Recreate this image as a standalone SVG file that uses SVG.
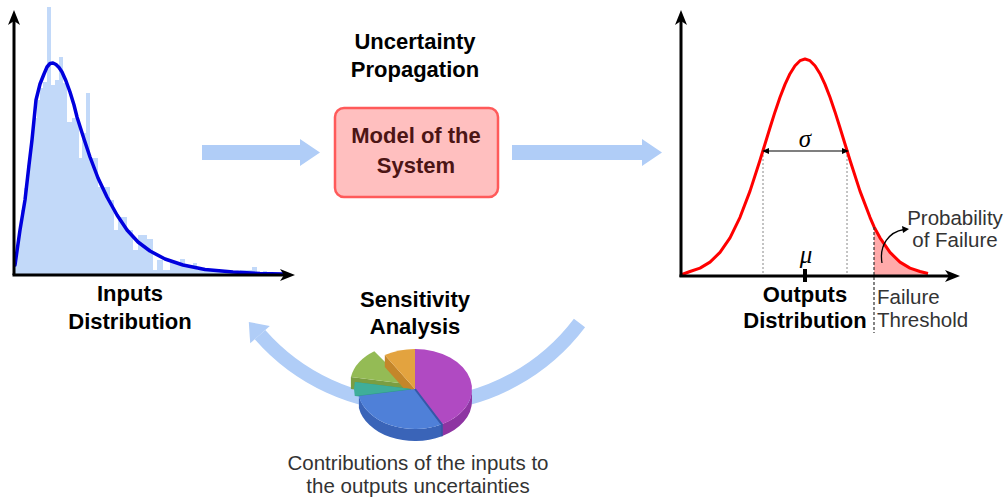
<svg xmlns="http://www.w3.org/2000/svg" width="1007" height="499" viewBox="0 0 1007 499">
<style>
text{font-family:"Liberation Sans",Arial,sans-serif}
.b{font-weight:bold;font-size:22px;fill:#000;text-anchor:middle}
.g{font-size:20.5px;fill:#333;}
.ax{stroke:#000;stroke-width:3;fill:none}
.ah{fill:#000}
.conn{fill:#b0cdf7}
.arc{fill:none;stroke:#b0cdf7;stroke-width:14}
.dot{stroke:#888;stroke-width:1;stroke-dasharray:2,2;fill:none}
.sym{font-family:"Liberation Serif","Times New Roman",serif;font-style:italic;font-size:25px;text-anchor:middle}
</style>
<rect width="1007" height="499" fill="#fff"/>

<g id="connectors">
  <polygon class="conn" points="202,145 300,145 300,139 320,152.5 300,166 300,160 202,160"/>
  <polygon class="conn" points="512,145 642,145 642,139 662,152.5 642,166 642,160 512,160"/>
  <path class="arc" d="M579.5,323 A206,206 0 0 1 260,334.7"/>
  <polygon class="conn" points="248.8,321.9 269.8,326.1 250.2,343.3"/>
</g>

<g id="inputs-distribution">
  <path fill="#c2d9f9" d="M15,274 V255 H18 V232 H21 V210 H24 V188 H27 V165 H30 V140 H33 V118 H37 V100 H40 V88 H43 V82 H47 V7 H51 V85 H55 V80 H59 V57 H63 V83 H67 V122 H72 V118 H79 V158 H82 V133 H86 V93 H90 V158 H98 V187 H110 V200 H114 V230 H118 V217 H127 V230 H133 V250 H138 V235 H147 V239 H153 V270 H157 V260 H163 V270 H170 V262 H180 V259 H185 V267 H193 V263 H197 V270 H210 V271 H225 V272 H240 V270 H252 V267 H257 V272 H263 V271 H267 V274 Z"/>
  <polyline fill="none" stroke="#0000dd" stroke-width="3.5" stroke-linejoin="round" stroke-linecap="round" points="15,265 20,230 25,200 29,165 32,140 36,100 40,84 44,74 47,67 50,63.5 53,63 56,64.5 59,67.5 62,72 66,81 70,92 74,105 77,117 84,139 90,157 98,178 107,197 117,215 127,230 138,242 150,251 165,259 183,265 205,269.5 233,272 260,273.5 283,274"/>
  <line class="ax" x1="14" y1="275" x2="14" y2="20"/>
  <line class="ax" x1="12.5" y1="275" x2="285" y2="275"/>
  <path class="ah" d="M14,10 L20,25 L14,21 L8,25 Z"/>
  <path class="ah" d="M295,275 L280,269 L284,275 L280,281 Z"/>
  <text class="b" x="130" y="301">Inputs</text>
  <text class="b" x="130" y="329">Distribution</text>
</g>

<g id="uncertainty-propagation">
  <text class="b" x="415" y="49">Uncertainty</text>
  <text class="b" x="415" y="77">Propagation</text>
</g>

<g id="model">
  <rect x="335" y="108" width="163" height="89" rx="9" fill="#ffbfbf" stroke="#ff5a5a" stroke-width="2.5"/>
  <text class="b" x="416" y="143" style="fill:#4c1515">Model of the</text>
  <text class="b" x="416" y="173" style="fill:#4c1515">System</text>
</g>

<g id="outputs-distribution">
  <polygon fill="#ffaaaa" points="874,276 874,226.7 880,237.8 890,252.4 900,262.1 910,268.1 920,271.5 928,273.1 928,276"/>
  <line class="dot" x1="763" y1="151" x2="763" y2="275"/>
  <line class="dot" x1="847" y1="151" x2="847" y2="275"/>
  <polyline fill="none" stroke="#ff0000" stroke-width="3" stroke-linejoin="round" points="682,274.5 690,271.5 700,268.1 710,262.1 720,252.4 730,237.8 740,217.3 750,191.1 760,160.3 765,144 770,127.7 775,111.9 780,97.3 785,84.4 790,73.7 795,65.7 800,60.7 805,59 810,60.7 815,65.7 820,73.7 825,84.4 830,97.3 835,111.9 840,127.7 845,144 850,160.3 860,191.1 870,217.3 874,226.7 880,237.8 890,252.4 900,262.1 910,268.1 920,271.5 928,273.5"/>
  <line stroke="#000" stroke-width="1.2" x1="766" y1="151" x2="845" y2="151"/>
  <path class="ah" d="M762,151 L769,148 L769,154 Z"/>
  <path class="ah" d="M849,151 L842,148 L842,154 Z"/>
  <text class="sym" x="805" y="147">σ</text>
  <text class="sym" x="806" y="263">μ</text>
  <line stroke="#333" stroke-width="1.2" stroke-dasharray="3,2" x1="874" y1="227" x2="874" y2="333"/>
  <line class="ax" x1="681" y1="277" x2="681" y2="20"/>
  <line class="ax" x1="679.5" y1="276" x2="950" y2="276"/>
  <path class="ah" d="M681,10 L687,25 L681,21 L675,25 Z"/>
  <path class="ah" d="M960,276 L945,270 L949,276 L945,282 Z"/>
  <rect x="803" y="269" width="4" height="13" fill="#000"/>
  <path fill="none" stroke="#000" stroke-width="1.3" d="M882,263 C879,245 889,232 904,229.5"/>
  <path class="ah" d="M909,229 L902,226 L903,233 Z"/>
  <text class="g" x="955" y="225" text-anchor="middle">Probability</text>
  <text class="g" x="955" y="247" text-anchor="middle">of Failure</text>
  <text class="g" x="877" y="304">Failure</text>
  <text class="g" x="877" y="327">Threshold</text>
  <text class="b" x="805" y="302">Outputs</text>
  <text class="b" x="805" y="328">Distribution</text>
</g>

<g id="sensitivity-analysis">
  <text class="b" x="415" y="307">Sensitivity</text>
  <text class="b" x="415" y="334">Analysis</text>
  <g id="pie">
    <path fill="#7a9e42" d="M407,384 L350.9,377.1 L350.9,389.1 L407,396 Z"/>
    <path fill="#94bb55" d="M407,384 L350.9,377.1 A57,40 0 0 1 374.3,351.2 Z"/>
    <path fill="#c4862a" d="M384.8,355.1 L415,389 L415,401 L384.8,367.1 Z"/>
    <path fill="#e3a33f" d="M415,389 L384.8,355.1 A57,40 0 0 1 415,349 Z"/>
    <path fill="#2f9a86" d="M411,389 L354.9,382.1 L354.9,396 L411,401 Z"/>
    <path fill="#3fae9a" d="M411,389 L354.9,396 A57,40 0 0 1 354.9,382.1 Z"/>
    <path fill="#3a64b8" d="M441.8,424.3 A57,40 0 0 1 358.9,396 L358.9,408 A57,40 0 0 0 441.8,436.3 Z"/>
    <path fill="#4f80d8" d="M415,389 L441.8,424.3 A57,40 0 0 1 358.9,396 Z"/>
    <path fill="#8e34a2" d="M472,389 A57,40 0 0 1 441.8,424.3 L441.8,436.3 A57,40 0 0 0 472,401 Z"/>
    <path fill="#b04ac2" d="M415,389 L415,349 A57,40 0 0 1 441.8,424.3 Z"/>
    <path fill="none" stroke="#3558a8" stroke-width="2" d="M415,389 L441.8,424.3 L441.8,436.3"/>
  </g>
  <text class="g" x="418" y="470" text-anchor="middle">Contributions of the inputs to</text>
  <text class="g" x="418" y="493" text-anchor="middle">the outputs uncertainties</text>
</g>
</svg>
